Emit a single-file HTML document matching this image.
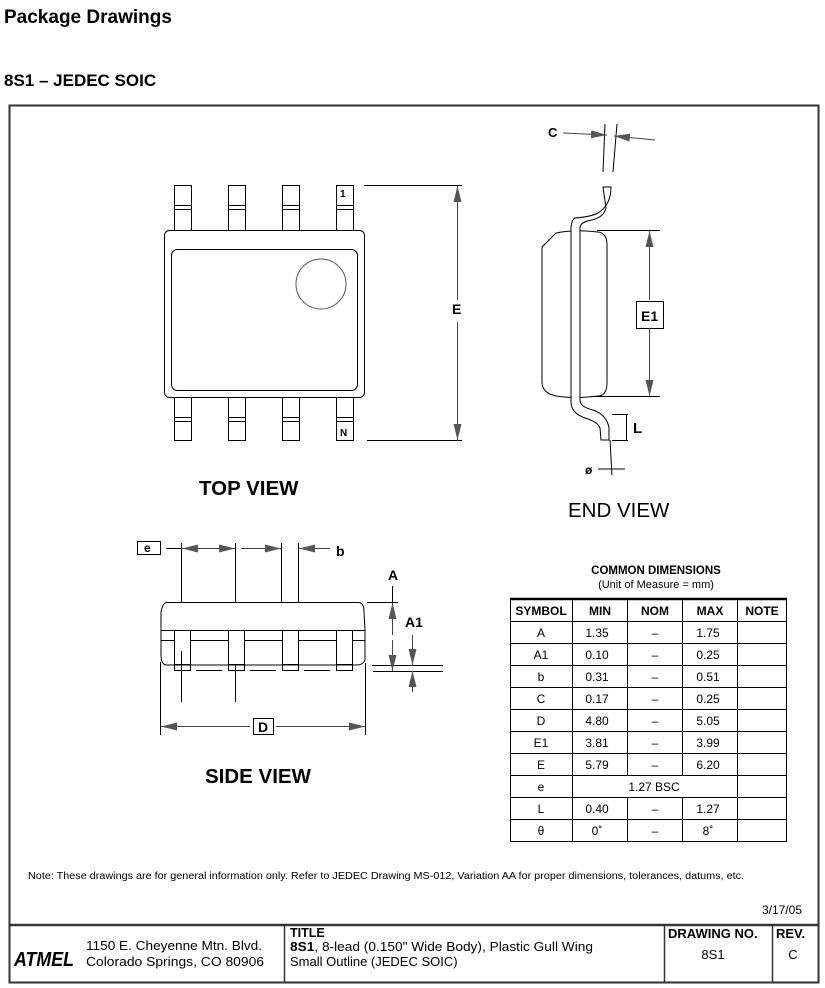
<!DOCTYPE html>
<html><head><meta charset="utf-8"><style>
body{margin:0;background:#fff;width:825px;height:988px;overflow:hidden}
svg{display:block}
text{font-family:"Liberation Sans",Arial,sans-serif;fill:#000}
</style></head><body>
<svg width="825" height="988" viewBox="0 0 825 988" xmlns="http://www.w3.org/2000/svg">
<defs>
<marker id="ar" viewBox="0 0 16 8" refX="16" refY="4" markerWidth="16" markerHeight="8" preserveAspectRatio="none" markerUnits="userSpaceOnUse" orient="auto"><path d="M0,0L16,4L0,8z" fill="#555"/></marker>
</defs>
<text x="4" y="23" font-size="19" font-weight="bold">Package Drawings</text>
<text x="4" y="86" font-size="17" font-weight="bold">8S1 – JEDEC SOIC</text>
<rect x="9.5" y="105.5" width="809" height="877" fill="none" stroke="#333" stroke-width="2"/>

<g fill="none" stroke="#000" stroke-width="1">
<g id="tl">
<rect x="174.5" y="185.5" width="17" height="45"/><line x1="174" y1="205.5" x2="192" y2="205.5"/><line x1="174" y1="209.5" x2="192" y2="209.5"/>
<rect x="174.5" y="397.5" width="17" height="43"/><line x1="174" y1="417.5" x2="192" y2="417.5"/><line x1="174" y1="421.5" x2="192" y2="421.5"/>
</g>
<use href="#tl" x="54"/><use href="#tl" x="108"/><use href="#tl" x="162"/>
<rect x="164.5" y="230.5" width="200" height="167" rx="5" fill="#fff"/>
<rect x="171.5" y="249.5" width="186" height="141" rx="6"/>
<circle cx="321" cy="284" r="25" stroke="#555"/>
<line x1="364" y1="185.5" x2="462" y2="185.5"/>
<line x1="367" y1="440.5" x2="462" y2="440.5"/>
<line x1="457.5" y1="300" x2="457.5" y2="186" marker-end="url(#ar)" stroke="#444"/>
<line x1="457.5" y1="322" x2="457.5" y2="440" marker-end="url(#ar)" stroke="#444"/>

<line x1="605" y1="124" x2="603" y2="172"/><line x1="617" y1="124" x2="613" y2="172"/>
<line x1="563" y1="133" x2="607" y2="135" marker-end="url(#ar)" stroke="#444"/>
<line x1="655" y1="140" x2="614" y2="136" marker-end="url(#ar)" stroke="#444"/>
<path d="M542,247 L556,233 Q575,229 598,232 Q607,233 607,245 L607,382 Q607,396 598,396 Q575,399 556,396 Q542,393 542,382 Z" fill="#fff"/>
<path d="M603,187 L611,187 Q611,205 598,213 Q590,217 575,218 Q571,220 571,230 L571,402 Q571,413 585,418 Q598,422 600,428 L601,440 L609,440 L609,428 Q607,415 593,410 Q580,407 580,400 L580,228 Q580,222 592,220 Q604,217 606,208 Z" fill="#fff"/>
<line x1="597" y1="230.5" x2="660" y2="230.5"/>
<line x1="591" y1="396.5" x2="660" y2="396.5"/>
<line x1="649.5" y1="300" x2="649.5" y2="231" marker-end="url(#ar)" stroke="#444"/>
<line x1="649.5" y1="329" x2="649.5" y2="396" marker-end="url(#ar)" stroke="#444"/>
<rect x="636.5" y="301.5" width="27" height="27"/>
<line x1="612" y1="414.5" x2="628" y2="414.5"/>
<line x1="612" y1="440.5" x2="628" y2="440.5"/>
<line x1="626.5" y1="415" x2="626.5" y2="440"/>
<line x1="610" y1="440" x2="612" y2="475"/><line x1="598" y1="469" x2="625" y2="469"/>

<rect x="137.5" y="541.5" width="23" height="13"/>
<line x1="166" y1="548.5" x2="215" y2="548.5"/>
<line x1="220" y1="548.5" x2="182" y2="548.5" marker-end="url(#ar)" stroke="#444"/>
<line x1="215" y1="548.5" x2="235" y2="548.5" marker-end="url(#ar)" stroke="#444"/>
<line x1="241" y1="548.5" x2="281" y2="548.5" marker-end="url(#ar)" stroke="#444"/>
<line x1="330" y1="548.5" x2="299" y2="548.5" marker-end="url(#ar)" stroke="#444"/>
<line x1="181.5" y1="543" x2="181.5" y2="635"/>
<line x1="235.5" y1="543" x2="235.5" y2="640"/><line x1="235.5" y1="651" x2="235.5" y2="702"/>
<line x1="281.5" y1="543" x2="281.5" y2="619"/>
<line x1="298.5" y1="543" x2="298.5" y2="619"/>
<path d="M167,602.5 L359,602.5 Q364,603 364,612 L365,630 L365,660 Q363,665 357,665 L167,665 Q161,665 161,655 L161,612 Q163,602 167,602.5 Z" fill="#fff"/>
<line x1="161" y1="630.5" x2="365" y2="630.5"/>
<line x1="161" y1="640.5" x2="174" y2="640.5"/><line x1="190" y1="640.5" x2="228" y2="640.5"/><line x1="244" y1="640.5" x2="282" y2="640.5"/><line x1="298" y1="640.5" x2="336" y2="640.5"/><line x1="352" y1="640.5" x2="365" y2="640.5"/>
<g id="sl"><rect x="174.5" y="630.5" width="16" height="40" fill="none"/><line x1="174" y1="664.5" x2="190" y2="664.5"/></g>
<use href="#sl" x="54"/><use href="#sl" x="108"/><use href="#sl" x="162"/>
<line x1="196" y1="670.5" x2="222" y2="670.5"/><line x1="250" y1="670.5" x2="276" y2="670.5"/><line x1="304" y1="670.5" x2="330" y2="670.5"/>
<line x1="181.5" y1="651" x2="181.5" y2="702"/>
<line x1="160.5" y1="662" x2="160.5" y2="735"/>
<line x1="365.5" y1="663" x2="365.5" y2="735"/>
<line x1="250" y1="726.5" x2="161" y2="726.5" marker-end="url(#ar)" stroke="#444"/>
<line x1="276" y1="726.5" x2="365" y2="726.5" marker-end="url(#ar)" stroke="#444"/>
<rect x="253.5" y="718.5" width="20" height="16"/>
<line x1="367" y1="602.5" x2="398" y2="602.5"/>
<line x1="372" y1="665.5" x2="443" y2="665.5"/>
<line x1="373" y1="671.5" x2="443" y2="671.5"/>
<line x1="392.5" y1="586" x2="392.5" y2="603" />
<line x1="392.5" y1="635" x2="392.5" y2="603" marker-end="url(#ar)" stroke="#444"/>
<line x1="392.5" y1="640" x2="392.5" y2="671" marker-end="url(#ar)" stroke="#444"/>
<line x1="412.5" y1="635" x2="412.5" y2="665" marker-end="url(#ar)" stroke="#444"/>
<line x1="412.5" y1="692" x2="412.5" y2="671" marker-end="url(#ar)" stroke="#444"/>
</g>

<g font-weight="bold">
<text x="340" y="197" font-size="10">1</text>
<text x="340" y="436" font-size="10">N</text>
<text x="452" y="314" font-size="14">E</text>
<text x="199" y="495" font-size="20.5">TOP VIEW</text>
<text x="548" y="137" font-size="13">C</text>
<text x="641" y="321" font-size="14">E1</text>
<text x="633" y="433" font-size="15">L</text>
<text x="585" y="474" font-size="12">ø</text>
<text x="144" y="552" font-size="12">e</text>
<text x="336" y="556" font-size="14">b</text>
<text x="388" y="580" font-size="14">A</text>
<text x="405" y="627" font-size="14">A1</text>
<text x="258" y="732" font-size="14">D</text>
<text x="205" y="783" font-size="20.5">SIDE VIEW</text>
<text x="656" y="574" font-size="11.5" text-anchor="middle">COMMON DIMENSIONS</text>
</g>
<text x="568" y="517" font-size="20.5">END VIEW</text>
<text x="656" y="588" font-size="11" text-anchor="middle">(Unit of Measure = mm)</text>

<g stroke="#000" fill="none">
<line x1="510" y1="599" x2="787" y2="599" stroke-width="2.5"/>
<rect x="510.5" y="599.5" width="276" height="242"/>
<line x1="572.5" y1="599" x2="572.5" y2="841"/>
<line x1="627.5" y1="599" x2="627.5" y2="775"/><line x1="627.5" y1="797" x2="627.5" y2="841"/>
<line x1="682.5" y1="599" x2="682.5" y2="775"/><line x1="682.5" y1="797" x2="682.5" y2="841"/>
<line x1="737.5" y1="599" x2="737.5" y2="841"/>
<path d="M510 621.5H787M510 643.5H787M510 665.5H787M510 687.5H787M510 709.5H787M510 731.5H787M510 753.5H787M510 775.5H787M510 797.5H787M510 819.5H787"/>
</g>
<g font-size="12" text-anchor="middle">
<text x="541" y="615" font-weight="bold">SYMBOL</text><text x="600" y="615" font-weight="bold">MIN</text><text x="655" y="615" font-weight="bold">NOM</text><text x="710" y="615" font-weight="bold">MAX</text><text x="762" y="615" font-weight="bold">NOTE</text>
<text x="541" y="637">A</text><text x="597" y="637">1.35</text><text x="655" y="637">–</text><text x="708" y="637">1.75</text>
<text x="541" y="659">A1</text><text x="597" y="659">0.10</text><text x="655" y="659">–</text><text x="708" y="659">0.25</text>
<text x="541" y="681">b</text><text x="597" y="681">0.31</text><text x="655" y="681">–</text><text x="708" y="681">0.51</text>
<text x="541" y="703">C</text><text x="597" y="703">0.17</text><text x="655" y="703">–</text><text x="708" y="703">0.25</text>
<text x="541" y="725">D</text><text x="597" y="725">4.80</text><text x="655" y="725">–</text><text x="708" y="725">5.05</text>
<text x="541" y="747">E1</text><text x="597" y="747">3.81</text><text x="655" y="747">–</text><text x="708" y="747">3.99</text>
<text x="541" y="769">E</text><text x="597" y="769">5.79</text><text x="655" y="769">–</text><text x="708" y="769">6.20</text>
<text x="541" y="791">e</text><text x="654" y="791">1.27 BSC</text>
<text x="541" y="813">L</text><text x="597" y="813">0.40</text><text x="655" y="813">–</text><text x="708" y="813">1.27</text>
<text x="541" y="835">θ</text><text x="597" y="835">0˚</text><text x="655" y="835">–</text><text x="708" y="835">8˚</text>
</g>

<text x="28" y="879" font-size="10" textLength="716" lengthAdjust="spacingAndGlyphs">Note:   These drawings are for general information only. Refer to JEDEC Drawing MS-012, Variation AA for proper dimensions, tolerances, datums, etc.</text>
<text x="802" y="914" font-size="12" text-anchor="end">3/17/05</text>

<g stroke="#333" fill="none" stroke-width="1.5">
<line x1="9" y1="925" x2="819" y2="925" stroke-width="2.5"/>
<line x1="284.5" y1="925" x2="284.5" y2="983"/>
<line x1="664.5" y1="925" x2="664.5" y2="983"/>
<line x1="772.5" y1="925" x2="772.5" y2="983"/>
</g>
<text x="14" y="966" font-size="20" font-weight="bold" font-style="italic" textLength="60" lengthAdjust="spacingAndGlyphs">ATMEL</text>
<text x="86" y="950" font-size="13" textLength="176" lengthAdjust="spacingAndGlyphs">1150 E. Cheyenne Mtn. Blvd.</text>
<text x="86" y="966" font-size="13" textLength="178" lengthAdjust="spacingAndGlyphs">Colorado Springs, CO  80906</text>
<text x="290" y="937" font-size="12.5" font-weight="bold">TITLE</text>
<text x="290" y="951" font-size="13" textLength="303" lengthAdjust="spacingAndGlyphs"><tspan font-weight="bold">8S1</tspan>, 8-lead (0.150" Wide Body), Plastic Gull Wing</text>
<text x="290" y="966" font-size="13">Small Outline (JEDEC SOIC)</text>
<text x="668" y="938" font-size="13" font-weight="bold">DRAWING NO.</text>
<text x="713" y="959" font-size="13" text-anchor="middle">8S1</text>
<text x="776" y="938" font-size="13" font-weight="bold">REV.</text>
<text x="793" y="959" font-size="13" text-anchor="middle">C</text>
</svg>
</body></html>
